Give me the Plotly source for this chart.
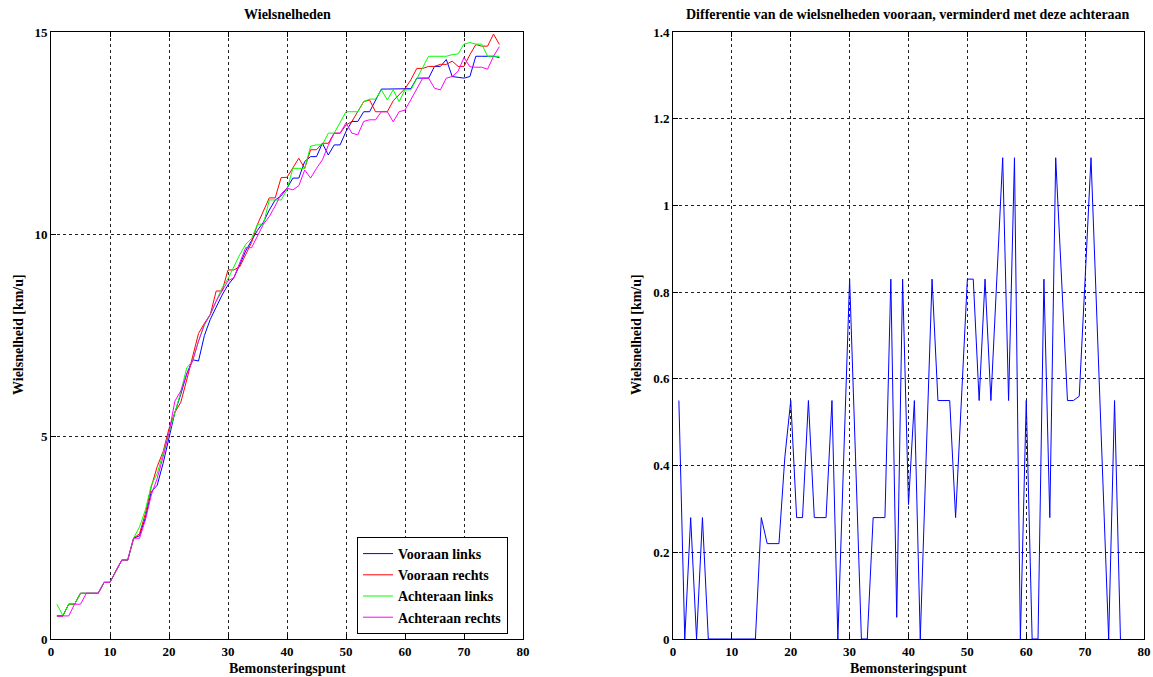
import plotly.graph_objects as go

# ---------------- data ----------------
punten = list(range(1, 77))

vooraan_links = [
    0.57, 0.57, 0.86, 0.86, 1.13, 1.13, 1.13, 1.13, 1.40, 1.40, 1.68, 1.95, 1.95, 2.49,
    2.55, 3.00, 3.64, 3.80, 4.34, 5.00,
    5.60, 6.05, 6.55, 6.90, 6.87, 7.50, 7.90, 8.20, 8.50, 8.75,
    8.93, 9.25, 9.59, 9.85, 10.10, 10.30, 10.60, 10.85, 10.95, 11.14,
    11.39, 11.39, 11.80, 11.92, 11.92, 12.25, 11.96, 12.21, 12.21, 12.54,
    12.79, 12.79, 13.03, 13.03, 13.32, 13.59, 13.59, 13.59, 13.59, 13.59,
    13.60, 13.86, 13.86, 13.86, 14.15, 14.15, 14.32, 13.90, 13.88, 13.86,
    13.90, 14.40, 14.40, 14.40, 14.40, 14.37,
]

vooraan_rechts = [
    0.57, 0.57, 0.86, 0.86, 1.13, 1.13, 1.13, 1.13, 1.40, 1.40, 1.68, 1.95, 1.95, 2.49,
    2.60, 3.10, 3.76, 4.26, 4.63, 5.20,
    5.60, 5.85, 6.40, 7.00, 7.55, 7.80, 8.02, 8.60, 8.60, 9.12,
    9.12, 9.20, 9.50, 9.80, 10.25, 10.58, 10.90, 10.90, 11.40, 11.41,
    11.65, 11.88, 11.63, 12.09, 12.09, 12.25, 12.25, 12.50, 12.50, 12.70,
    12.79, 13.05, 13.28, 13.32, 13.03, 13.03, 13.03, 13.30, 13.45, 13.60,
    13.82, 14.10, 14.10, 14.15, 14.15, 14.20, 14.20, 14.28, 14.15, 14.15,
    14.44, 14.69, 14.65, 14.65, 14.95, 14.69,
]

achteraan_links = [
    0.86, 0.58, 0.86, 0.86, 1.13, 1.13, 1.13, 1.13, 1.40, 1.40, 1.68, 1.95, 1.95, 2.49,
    2.77, 3.19, 3.80, 4.09, 4.59, 5.10,
    5.55, 6.10, 6.70, 6.87, 7.36, 7.75, 8.02, 8.35, 8.68, 8.90,
    9.20, 9.50, 9.75, 9.90, 10.25, 10.25, 10.85, 10.85, 10.85, 11.10,
    11.63, 11.63, 11.63, 12.18, 12.21, 12.21, 12.50, 12.50, 12.75, 13.03,
    13.03, 13.03, 13.28, 13.34, 13.34, 13.57, 13.32, 13.57, 13.28, 13.57,
    13.57, 13.85, 14.13, 14.40, 14.40, 14.40, 14.40, 14.44, 14.46, 14.70,
    14.74, 14.70, 14.70, 14.40, 14.40, 14.40,
]

achteraan_rechts = [
    0.57, 0.57, 0.57, 0.86, 0.86, 1.13, 1.13, 1.13, 1.40, 1.40, 1.68, 1.95, 1.95, 2.49,
    2.49, 2.94, 3.56, 3.97, 4.50, 5.10,
    5.88, 6.13, 6.54, 6.87, 7.36, 7.78, 8.02, 8.35, 8.60, 8.85,
    8.93, 9.30, 9.67, 9.67, 9.95, 10.25, 10.44, 10.70, 11.00, 11.14,
    11.10, 11.20, 11.59, 11.39, 11.63, 11.84, 12.20, 12.50, 12.50, 12.75,
    12.50, 12.46, 12.79, 12.83, 12.83, 13.03, 13.03, 12.78, 13.03, 13.07,
    13.33, 13.58, 13.86, 13.86, 13.61, 13.57, 13.86, 13.90, 14.03, 14.37,
    14.14, 14.13, 14.13, 14.08, 14.40, 14.64,
]

verschil = [
    0.55, 0.00, 0.28, 0.00, 0.28, 0.00, 0.00, 0.00, 0.00, 0.00, 0.00, 0.00, 0.00, 0.00,
    0.28, 0.22, 0.22, 0.22, 0.42, 0.55,
    0.28, 0.28, 0.55, 0.28, 0.28, 0.28, 0.55, 0.00, 0.42, 0.83,
    0.42, 0.00, 0.00, 0.28, 0.28, 0.28, 0.83, 0.05, 0.83, 0.31,
    0.55, 0.00, 0.42, 0.83, 0.55, 0.55, 0.55, 0.28, 0.55, 0.83,
    0.83, 0.55, 0.83, 0.55, 0.83, 1.11, 0.55, 1.11, 0.00, 0.55,
    0.00, 0.00, 0.83, 0.28, 1.11, 0.83, 0.55, 0.55, 0.56, 0.83,
    1.11, 0.74, 0.37, 0.00, 0.55, 0.00,
]

reeks_namen = ["Vooraan links", "Vooraan rechts", "Achteraan links", "Achteraan rechts"]
reeks_kleuren = ["#0000FF", "#FF0000", "#00FF00", "#FF00FF"]

titel_links = "Wielsnelheden"
titel_rechts = "Differentie van de wielsnelheden vooraan, verminderd met deze achteraan"
x_titel = "Bemonsteringspunt"
y_titel = "Wielsnelheid [km/u]"

# ---------------- figure ----------------
W, H = 1153, 677
FONT = "Liberation Serif, Times New Roman, serif"

fig = go.Figure()
for naam, kleur, waarden in zip(reeks_namen, reeks_kleuren,
                                [vooraan_links, vooraan_rechts, achteraan_links, achteraan_rechts]):
    fig.add_trace(go.Scatter(x=punten, y=waarden, mode="lines", name=naam,
                             line=dict(color=kleur, width=1), xaxis="x", yaxis="y"))

fig.add_trace(go.Scatter(x=punten, y=verschil, mode="lines", showlegend=False,
                         line=dict(color="#0000FF", width=1), xaxis="x2", yaxis="y2"))

def px_x(p):
    return p / W

def px_y(p):
    return 1 - p / H

ax_common = dict(
    showline=True, linecolor="black", linewidth=1, mirror="ticks",
    ticks="inside", ticklen=5, tickcolor="black", tickwidth=1,
    showgrid=True, gridcolor="#222222", gridwidth=1, griddash="3px,3px",
    zeroline=False, automargin=False,
    tickfont=dict(family=FONT, size=13, color="black", weight="bold"),
)

left_dom = [px_x(51), px_x(523)]
right_dom = [px_x(673), px_x(1144)]
y_dom = [px_y(639), px_y(32)]

fig.update_layout(
    width=W, height=H,
    margin=dict(l=0, r=0, t=0, b=0, autoexpand=False),
    paper_bgcolor="white", plot_bgcolor="white",
    xaxis=dict(domain=left_dom, range=[0, 80], dtick=10, anchor="y", **ax_common),
    yaxis=dict(domain=y_dom, range=[0, 15], dtick=5, anchor="x", **ax_common),
    xaxis2=dict(domain=right_dom, range=[0, 80], dtick=10, anchor="y2", **ax_common),
    yaxis2=dict(domain=y_dom, range=[0, 1.4], dtick=0.2, anchor="x2", **ax_common),
    showlegend=True,
    legend=dict(
        x=px_x(357), y=px_y(634), xanchor="left", yanchor="bottom",
        bgcolor="white", bordercolor="black", borderwidth=1,
        font=dict(family=FONT, size=14, color="black", weight="bold"),
        tracegroupgap=0, itemwidth=30,
    ),
)

ann_font = dict(family=FONT, size=14, color="black", weight="bold")
annotations = [
    dict(text=titel_links, x=px_x(287), y=px_y(15), xref="paper", yref="paper",
         showarrow=False, font=ann_font, xanchor="center", yanchor="middle"),
    dict(text=titel_rechts, x=px_x(908), y=px_y(15), xref="paper", yref="paper",
         showarrow=False, font=ann_font, xanchor="center", yanchor="middle"),
    dict(text=x_titel, x=px_x(287), y=px_y(668), xref="paper", yref="paper",
         showarrow=False, font=ann_font, xanchor="center", yanchor="middle"),
    dict(text=x_titel, x=px_x(908), y=px_y(668), xref="paper", yref="paper",
         showarrow=False, font=ann_font, xanchor="center", yanchor="middle"),
    dict(text=y_titel, x=px_x(18), y=px_y(335), xref="paper", yref="paper",
         showarrow=False, font=ann_font, xanchor="center", yanchor="middle", textangle=-90),
    dict(text=y_titel, x=px_x(636), y=px_y(335), xref="paper", yref="paper",
         showarrow=False, font=ann_font, xanchor="center", yanchor="middle", textangle=-90),
]
fig.update_layout(annotations=annotations)

fig.write_html("out.html")
